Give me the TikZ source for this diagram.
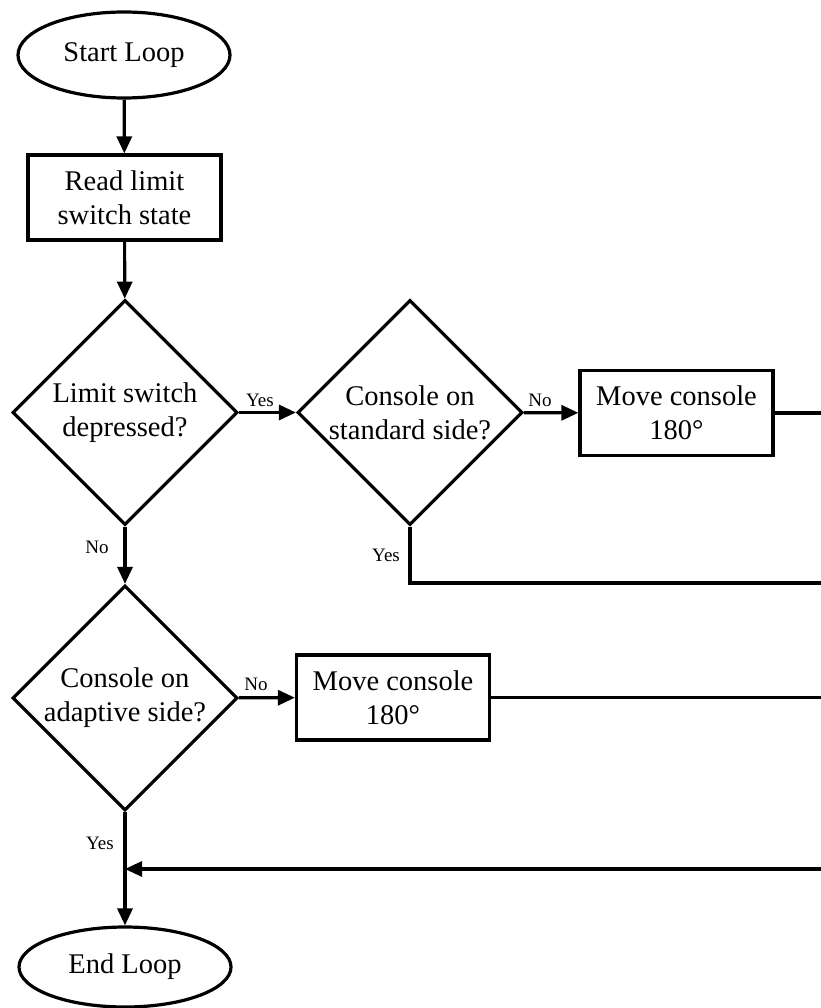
\documentclass[tikz,border=0pt]{standalone}
\usepackage{fontspec}
\setmainfont{Liberation Serif}
\usetikzlibrary{shapes.geometric,arrows.meta}
\begin{document}
\begin{tikzpicture}[x=1pt,y=-1pt,
  every node/.style={inner sep=0pt},
  base/.style={draw=black,line width=3.2pt,font=\fontsize{28.5}{34}\selectfont,align=center},
  term/.style={base,ellipse,minimum width=212pt},
  proc/.style={base,rectangle,minimum width=193pt,minimum height=85pt},
  dec/.style={base,diamond,minimum width=225pt,minimum height=225pt},
  lbl/.style={font=\fontsize{19}{22}\selectfont},
  conn/.style={line width=3.2pt},
  arr/.style={conn,-{Triangle[length=17pt,width=15pt]}}
]
\useasboundingbox (0,0) rectangle (820,1008);
\node[term,minimum height=86pt] (start) at (124,55) {Start Loop};
\node[proc] (read) at (124.5,197.5) {Read limit\\switch state};
\node[dec] (d1) at (125,412.5) {Limit switch\\depressed?};
\node[dec] (d2) at (410,412.5) {Console on\\standard side?};
\node[proc] (m1) at (676.5,413) {Move console\\180°};
\node[dec] (d3) at (125,698) {Console on\\adaptive side?};
\node[proc] (m2) at (393,697.5) {Move console\\180°};
\node[term,minimum height=80pt] (end) at (125,967) {End Loop};

\coordinate (r1) at (822,413);
\coordinate (c2) at (410,583);
\coordinate (r2) at (822,583);
\coordinate (r3) at (822,697.5);
\coordinate (r4) at (822,869);
\coordinate (j) at (125,869);

\draw[arr] (start) -- (read);
\draw[arr] (read) -- (d1);
\draw[arr] (d1) -- (d2);
\draw[arr] (d2) -- (m1);
\draw[conn] (m1) -- (r1);
\draw[conn] (d2.south) -- (c2) -- (r2);
\draw[arr] (d1) -- (d3);
\draw[arr] (d3) -- (m2);
\draw[conn] (m2) -- (r3);
\draw[arr] (d3) -- (end);
\draw[arr] (r4) -- (j);

\node[lbl] (l1) at (260,400) {Yes};
\node[lbl] (l2) at (540,400) {No};
\node[lbl] (l3) at (386,555) {Yes};
\node[lbl] (l4) at (97,547) {No};
\node[lbl] (l5) at (256,684) {No};
\node[lbl] (l6) at (100,843) {Yes};
\end{tikzpicture}
\end{document}
